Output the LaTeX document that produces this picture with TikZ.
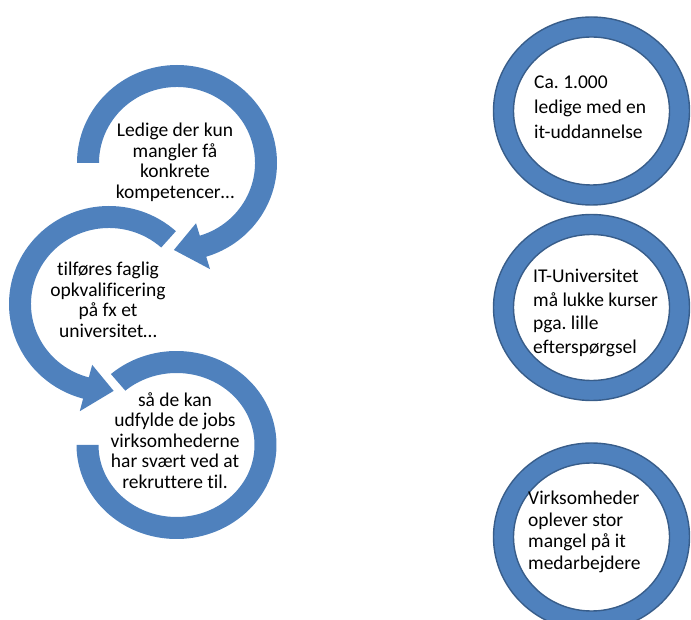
\documentclass[tikz,border=0pt]{standalone}
\usepackage{fontspec}
\setmainfont{Carlito}[Ligatures=NoCommon]
\frenchspacing
\definecolor{officeblue}{HTML}{4F81BD}
\definecolor{officedark}{HTML}{385D8A}
\tikzset{
  arrowshape/.style={fill=officeblue},
  ringshape/.style={fill=officeblue, draw=officedark, line width=1.4pt, even odd rule},
  lefttext/.style={align=center, inner sep=0pt, font=\fontsize{19.5}{20.6}\selectfont},
  righttext/.style={align=left, inner sep=0pt, anchor=west},
}
\begin{document}
\begin{tikzpicture}[x=1pt,y=1pt]
\useasboundingbox (0,0) rectangle (691,619);
% ---- cycle arrows (left) ----
\begin{scope}[shift={(177,456)}]
  \fill[arrowshape] (180:100 and 98) arc[start angle=180, end angle=-73, x radius=100, y radius=98]
    -- (-73:113 and 111) -- (-92:89 and 87) -- (-73:65 and 63) -- (-73:78 and 76)
    arc[start angle=-73, end angle=180, x radius=78, y radius=76] -- cycle;
\end{scope}
\begin{scope}[shift={(109,315)}]
  \fill[arrowshape] (48:100 and 98) arc[start angle=48, end angle=255, x radius=100, y radius=98]
    -- (255:113 and 111) -- (273:89 and 87) -- (255:65 and 63) -- (255:78 and 76)
    arc[start angle=255, end angle=48, x radius=78, y radius=76] -- cycle;
\end{scope}
\begin{scope}[shift={(176.5,174)}]
  \fill[arrowshape] (131:100 and 94) arc[start angle=131, end angle=-180, x radius=100, y radius=94]
    -- (180:78 and 72) arc[start angle=-180, end angle=131, x radius=78, y radius=72] -- cycle;
\end{scope}
\node[lefttext] (t1) at (175,456.5) {Ledige der kun\\mangler få\\konkrete\\kompetencer…};
\node[lefttext] (t2) at (108,319) {tilføres faglig\\opkvalificering\\på fx et\\universitet…};
\node[lefttext] (t3) at (175,178.5) {så de kan\\udfylde de jobs\\virksomhederne\\har svært ved at\\rekruttere til.};
% ---- rings (right) ----
\path[ringshape] (591.5,508) ellipse [x radius=98, y radius=94] (591.5,508) ellipse [x radius=78, y radius=74];
\path[ringshape] (591.5,311.5) ellipse [x radius=98, y radius=93] (591.5,311.5) ellipse [x radius=78, y radius=73];
\path[ringshape] (591.5,82) ellipse [x radius=98, y radius=94] (591.5,82) ellipse [x radius=78, y radius=74];
\node[righttext, font=\fontsize{19.5}{25}\selectfont] (r1) at (534,512) {Ca. 1.000\\ledige med en\\it-uddannelse};
\node[righttext, font=\fontsize{19.5}{23.5}\selectfont] (r2) at (533,306) {IT-Universitet\\må lukke kurser\\pga. lille\\efterspørgsel};
\node[righttext, font=\fontsize{19.5}{21.5}\selectfont] (r3) at (528,87) {Virksomheder\\oplever stor\\mangel på it\\medarbejdere};
\end{tikzpicture}
\end{document}
